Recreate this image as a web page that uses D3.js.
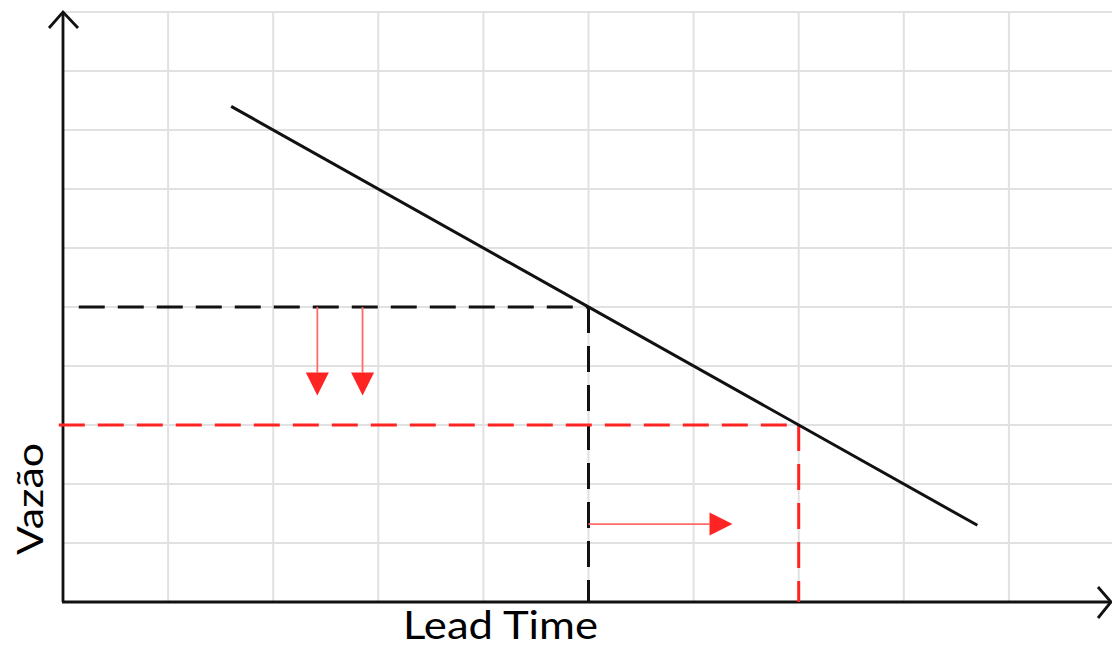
<!DOCTYPE html>
<html>
<head>
<meta charset="utf-8">
<script src="https://cdn.jsdelivr.net/npm/d3@7"></script>
<style>
  html, body { margin: 0; padding: 0; background: #ffffff; }
  svg { display: block; }
</style>
</head>
<body>
<svg id="chart" width="1112" height="648"></svg>
<script>
// Throughput vs lead time: one descending line with two operating points
const gridTicks = [1, 2, 3, 4, 5, 6, 7, 8, 9, 10];
const curveX = [1.6, 8.7];
const curveY = [8.4, 1.3];
const baseX = [5];
const baseY = [5];
const newX = [7];
const newY = [3];
const dropArrowX = [2.42, 2.85];
const dropArrowFrom = [5];
const dropArrowTo = [3.5];
const shiftArrowY = [1.32];
const shiftArrowFrom = [5];
const shiftArrowTo = [6.37];
const axisLabels = ["Lead Time", "Vazão"];

const svg = d3.select("#chart");
const W = 1112, H = 648;
const x = d3.scaleLinear().domain([0, 10]).range([63, 1114]);
const y = d3.scaleLinear().domain([0, 10]).range([602, 12]);

const gridColor = "#e1e1e1";
const red = "#ff2424";
const ink = "#111";
const line = d3.line().x(d => x(d[0])).y(d => y(d[1]));

// grid
const grid = svg.append("g");
grid.selectAll("line.v").data(gridTicks).join("line")
  .attr("x1", d => x(d)).attr("x2", d => x(d))
  .attr("y1", y(0)).attr("y2", y(10))
  .attr("stroke", gridColor).attr("stroke-width", 2);
grid.selectAll("line.h").data(gridTicks).join("line")
  .attr("x1", x(0)).attr("x2", W)
  .attr("y1", d => y(d)).attr("y2", d => y(d))
  .attr("stroke", gridColor).attr("stroke-width", 2);

// axes with open arrowheads
const axes = svg.append("g").attr("stroke", ink).attr("stroke-width", 2.8).attr("fill", "none");
axes.append("line").attr("x1", x(0)).attr("y1", y(0)).attr("x2", x(0)).attr("y2", y(10));
axes.append("line").attr("x1", x(0) - 1).attr("y1", y(0)).attr("x2", W - 1).attr("y2", y(0));
axes.append("path").attr("d", `M${x(0) - 14},${y(10) + 16}L${x(0)},${y(10)}L${x(0) + 15},${y(10) + 16}`);
axes.append("path").attr("d", `M${W - 14},${y(0) - 15}L${W - 1},${y(0)}L${W - 14},${y(0) + 16}`);

// dashed reference lines for the initial point
const dash = "26 13";
const lw = 3;
baseX.forEach((bx, i) => {
  const by = baseY[i];
  svg.append("path").datum([[0.15, by], [bx, by]]).attr("d", line)
    .attr("stroke", ink).attr("stroke-width", lw).attr("fill", "none")
    .attr("stroke-dasharray", dash);
  svg.append("path").datum([[bx, by], [bx, 0]]).attr("d", line)
    .attr("stroke", ink).attr("stroke-width", lw).attr("fill", "none")
    .attr("stroke-dasharray", dash);
});

// dashed reference lines for the new point
newX.forEach((nx, i) => {
  const ny = newY[i];
  svg.append("path").datum([[-0.04, ny], [nx, ny]]).attr("d", line)
    .attr("stroke", red).attr("stroke-width", lw).attr("fill", "none")
    .attr("stroke-dasharray", dash);
  svg.append("path").datum([[nx, ny], [nx, 0]]).attr("d", line)
    .attr("stroke", red).attr("stroke-width", lw).attr("fill", "none")
    .attr("stroke-dasharray", dash);
});

// descending curve
svg.append("path").datum(curveX.map((cx, i) => [cx, curveY[i]])).attr("d", line)
  .attr("stroke", ink).attr("stroke-width", lw).attr("fill", "none");

// red arrows
const head = 23;
const arrows = svg.append("g");
dropArrowX.forEach(ax => {
  const y0 = y(dropArrowFrom[0]), y1 = y(dropArrowTo[0]), px = x(ax);
  arrows.append("line").attr("x1", px).attr("x2", px).attr("y1", y0).attr("y2", y1 - head)
    .attr("stroke", "#ff6a6a").attr("stroke-width", 1.8);
  arrows.append("path")
    .attr("d", `M${px - 11.5},${y1 - head}L${px + 11.5},${y1 - head}L${px},${y1}Z`)
    .attr("fill", red);
});
shiftArrowY.forEach(sy => {
  const py = y(sy), x0 = x(shiftArrowFrom[0]), x1 = x(shiftArrowTo[0]);
  arrows.append("line").attr("x1", x0).attr("x2", x1 - head).attr("y1", py).attr("y2", py)
    .attr("stroke", "#ff6a6a").attr("stroke-width", 1.8);
  arrows.append("path")
    .attr("d", `M${x1 - head},${py - 11.5}L${x1 - head},${py + 11.5}L${x1},${py}Z`)
    .attr("fill", red);
});

// axis titles
svg.append("text")
  .attr("x", 500.5).attr("y", 639)
  .attr("text-anchor", "middle")
  .attr("font-family", "Lato, sans-serif").attr("font-size", 39)
  .attr("textLength", 195).attr("lengthAdjust", "spacingAndGlyphs")
  .attr("fill", "#000").text(axisLabels[0]);
svg.append("text")
  .attr("transform", "translate(43,499) rotate(-90)")
  .attr("text-anchor", "middle")
  .attr("font-family", "Lato, sans-serif").attr("font-size", 37)
  .attr("textLength", 112).attr("lengthAdjust", "spacingAndGlyphs")
  .attr("fill", "#000").text(axisLabels[1]);
</script>
</body>
</html>
